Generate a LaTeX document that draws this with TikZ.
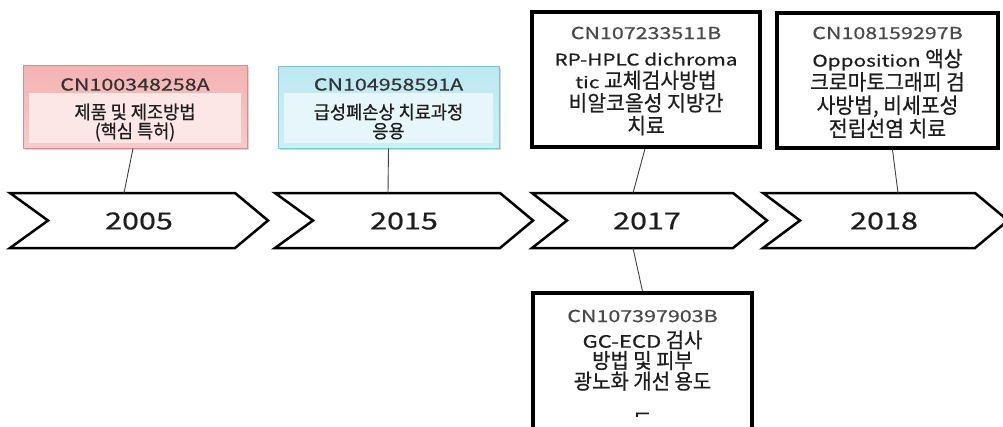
\documentclass[tikz,border=0pt]{standalone}
\usepackage{fontspec}
\setmainfont{Noto Sans CJK KR}[FakeStretch=0.95, FakeBold=0.6]
\newfontfamily\latf{Noto Sans CJK KR}[FakeStretch=1.3, FakeBold=0.6]
\newcommand{\lat}[2][16]{{\latf\fontsize{#1}{#1}\selectfont #2}}
\usetikzlibrary{shadows}
\definecolor{redborder}{HTML}{D98C8C}
\definecolor{redtop}{HTML}{F3B3B3}
\definecolor{redbot}{HTML}{F7CACA}
\definecolor{redin}{HTML}{FCE6E6}
\definecolor{blueborder}{HTML}{7CC3D3}
\definecolor{bluetop}{HTML}{BDE8F2}
\definecolor{bluebot}{HTML}{CDEFF6}
\definecolor{bluein}{HTML}{E7F6FA}
\definecolor{cngray}{HTML}{4A4A4A}
\definecolor{txt}{HTML}{1E1E1E}
\tikzset{
  chev/.style={draw=black, line width=2.5pt, fill=white, line join=miter},
  yearlbl/.style={font=\latf\fontsize{23.5}{26}\selectfont, text=txt, inner sep=0pt},
  softbox/.style={line width=1pt, inner sep=0pt, drop shadow={opacity=0.3, shadow xshift=2pt, shadow yshift=-2pt}},
  blackbox/.style={draw=black, line width=3.5pt, fill=white, inner sep=0pt},
  cnlbl/.style={font=\latf\fontsize{16.5}{18}\selectfont, text=cngray, inner sep=0pt},
  bodysmall/.style={font=\fontsize{18.5}{19}\selectfont, text=txt, inner sep=0pt, align=center},
  bodylarge/.style={font=\fontsize{21.5}{22.7}\selectfont, text=txt, inner sep=0pt, align=center},
  conn/.style={draw=black!75, line width=0.9pt}
}
\begin{document}
\begin{tikzpicture}[x=1pt,y=-1pt]
\useasboundingbox (0,0) rectangle (1003,426);
\clip (0,0) rectangle (1003,426);
\fill[white] (0,0) rectangle (1003,426);

% chevrons
\draw[chev] (10,193) -- (235,193) -- (268,220.5) -- (235,248) -- (10,248) -- (48,220.5) -- cycle;
\draw[chev] (275,193) -- (500,193) -- (533,220.5) -- (500,248) -- (275,248) -- (313,220.5) -- cycle;
\draw[chev] (532,193) -- (733,193) -- (767,220.5) -- (733,248) -- (532,248) -- (567,220.5) -- cycle;
\draw[chev] (763,193) -- (975,193) -- (1008,220.5) -- (975,248) -- (763,248) -- (800,220.5) -- cycle;

\node[yearlbl] (y2005) at (139,221) {2005};
\node[yearlbl] (y2015) at (404,221) {2015};
\node[yearlbl] (y2017) at (647,221) {2017};
\node[yearlbl] (y2018) at (884,221) {2018};

\coordinate (c1top) at (124,193);
\coordinate (c2top) at (388,193);
\coordinate (c3top) at (633,193);
\coordinate (c3bot) at (633,248);
\coordinate (c4top) at (898,193);

% box 1 (red)
\node[softbox, draw=redborder, top color=redtop, bottom color=redbot, minimum width=224pt, minimum height=83pt] (b1) at (135,106.5) {};
\fill[redin] (29,93) rectangle (241,143);
\node[cnlbl, text=black!80] (b1cn) at (135,84.5) {CN100348258A};
\node[bodysmall] (b1t) at (135,122.5) {제품 및 제조방법\\(핵심 특허)};

% box 2 (blue)
\node[softbox, draw=blueborder, top color=bluetop, bottom color=bluebot, minimum width=221pt, minimum height=82pt] (b2) at (388.5,107) {};
\fill[bluein] (284,93) rectangle (493,143);
\node[cnlbl, text=black!80] (b2cn) at (388.5,84.5) {CN104958591A};
\node[bodysmall] (b2t) at (388.5,121.5) {급성폐손상 치료과정\\응용};

% box 3
\node[blackbox, minimum width=228pt, minimum height=135pt] (b3) at (646,79.5) {};
\node[cnlbl] (b3cn) at (646,33) {CN107233511B};
\node[bodylarge] (b3t) at (646,94) {\lat{RP-HPLC dichroma}\\\lat{tic} 교체검사방법\\비알코올성 지방간\\치료};

% box 4
\node[blackbox, minimum width=221pt, minimum height=135pt] (b4) at (887.5,80.5) {};
\node[cnlbl] (b4cn) at (887.5,33) {CN108159297B};
\node[bodylarge, font=\fontsize{21.5}{23.3}\selectfont] (b4t) at (887.5,93.5) {\lat{Opposition} 액상\\크로마토그래피 검\\사방법, 비세포성\\전립선염 치료};

% box 5
\node[blackbox, minimum width=219pt, minimum height=150pt] (b5) at (642.5,368) {};
\node[cnlbl] (b5cn) at (642.5,316) {CN107397903B};
\node[bodylarge, font=\fontsize{21}{20.7}\selectfont] (b5t) at (642.5,360.5) {\lat[17]{GC-ECD} 검사\\방법 및 피부\\광노화 개선 용도};
\begin{scope}
\clip (534,405) rectangle (751,416);
\node[bodylarge] (b5t2) at (642.5,422) {등};
\end{scope}

% connectors
\draw[conn] ([xshift=-2pt]b1.south) -- (c1top);
\draw[conn] (b2.south) -- (c2top);
\draw[conn] ([xshift=-1pt]b3.south) -- (c3top);
\draw[conn] ([xshift=5pt]b4.south) -- (c4top);
\draw[conn] (c3bot) -- (b5.north);
\end{tikzpicture}
\end{document}
